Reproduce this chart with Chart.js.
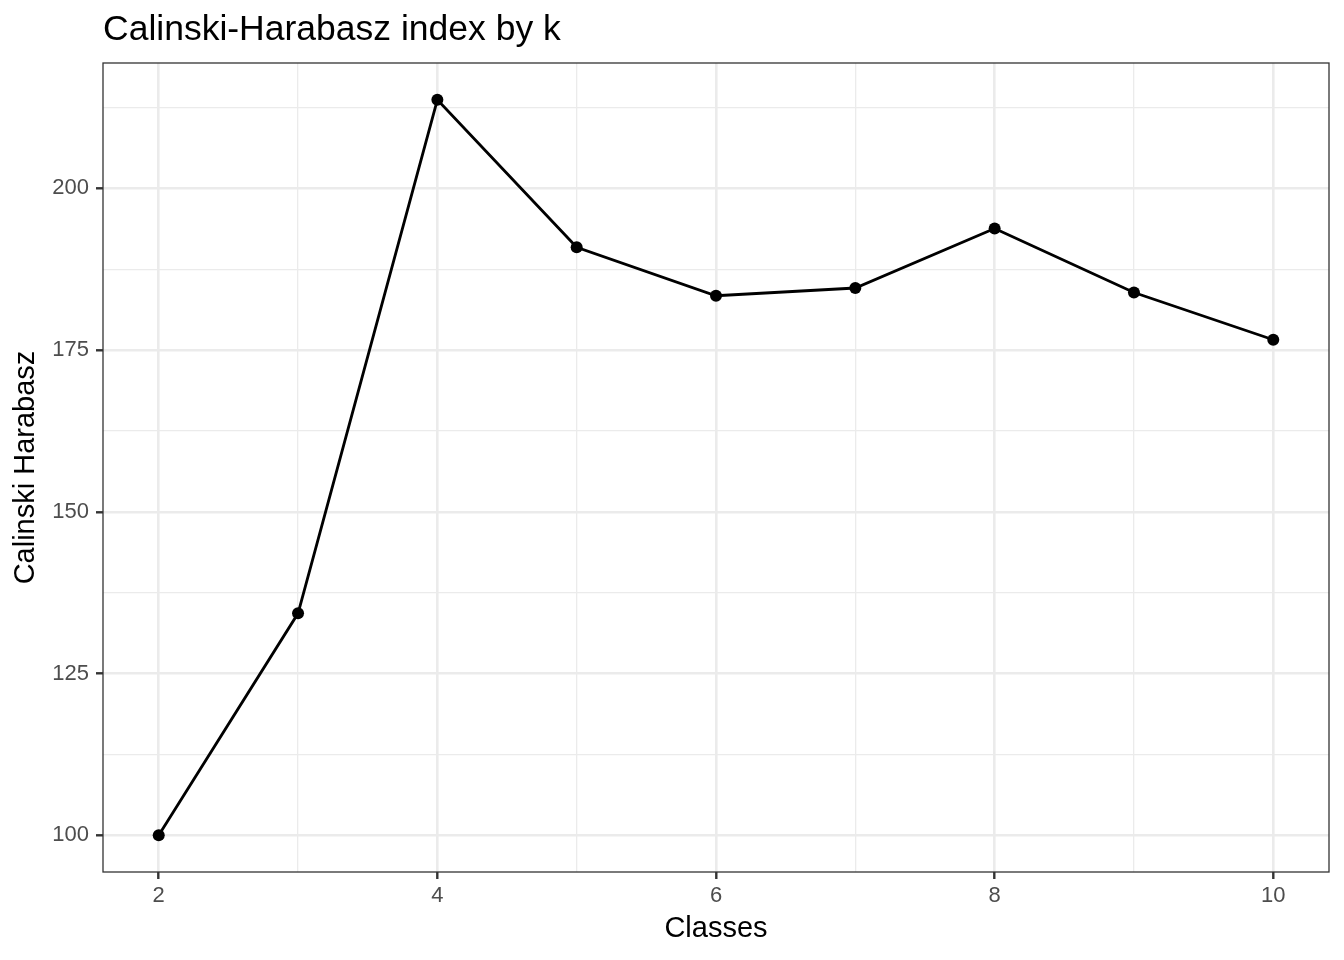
<!DOCTYPE html>
<html>
<head>
<meta charset="utf-8">
<script src="https://cdn.jsdelivr.net/npm/chart.js@4"></script>
<style>
  html, body { margin: 0; padding: 0; background: #ffffff; }
  #wrap { width: 1344px; height: 960px; }
</style>
</head>
<body>
<div id="wrap"><canvas id="c" width="1344" height="960"></canvas></div>
<script>
// ---- data ----
const classes = [2, 3, 4, 5, 6, 7, 8, 9, 10];
const chValues = [100.0, 134.3, 213.7, 190.9, 183.4, 184.6, 193.8, 183.9, 176.6];
const xTicks = [2, 3, 4, 5, 6, 7, 8, 9, 10];
const xMajor = [2, 4, 6, 8, 10];
const yTicks = [100, 112.5, 125, 137.5, 150, 162.5, 175, 187.5, 200, 212.5];
const yMajor = [100, 125, 150, 175, 200];
const titleText = 'Calinski-Harabasz index by k';
const xTitle = 'Classes';
const yTitle = 'Calinski Harabasz';

// ggplot-like 5% expansion
const xMinD = Math.min(...classes), xMaxD = Math.max(...classes);
const yMinD = Math.min(...chValues), yMaxD = Math.max(...chValues);
const xPad = (xMaxD - xMinD) * 0.05, yPad = (yMaxD - yMinD) * 0.05;

const FONT = '"Liberation Sans", Arial, Helvetica, sans-serif';
const GRID = '#EBEBEB';
const DARK = '#333333';

const isMajorX = v => xMajor.includes(v);
const isMajorY = v => yMajor.includes(v);

const panelBorder = {
  id: 'panelBorder',
  afterDraw(chart) {
    const {ctx, chartArea: a} = chart;
    ctx.save();
    ctx.strokeStyle = DARK;
    ctx.lineWidth = 1.3;
    ctx.strokeRect(a.left, a.top, a.right - a.left, a.bottom - a.top);
    ctx.restore();
  }
};

new Chart(document.getElementById('c'), {
  type: 'line',
  data: {
    datasets: [{
      data: classes.map((k, i) => ({x: k, y: chValues[i]})),
      borderColor: '#000000',
      backgroundColor: '#000000',
      borderWidth: 2.8,
      tension: 0,
      pointRadius: 6,
      pointBorderWidth: 0,
      pointBackgroundColor: '#000000',
      fill: false
    }]
  },
  options: {
    responsive: false,
    devicePixelRatio: 1,
    animation: false,
    layout: { padding: { left: 0, right: 15, top: 0, bottom: 0 } },
    plugins: {
      legend: { display: false },
      tooltip: { enabled: false },
      title: {
        display: true,
        text: titleText,
        align: 'start',
        fullSize: false,
        color: '#000000',
        font: { family: FONT, size: 35.5, weight: 'normal', lineHeight: 1.2 },
        padding: { top: 9, bottom: 11.4 }
      }
    },
    scales: {
      x: {
        type: 'linear',
        min: xMinD - xPad,
        max: xMaxD + xPad,
        afterBuildTicks: s => { s.ticks = xTicks.map(v => ({value: v})); },
        afterFit: s => { s.height = 88; },
        ticks: {
          autoSkip: false,
          maxRotation: 0,
          padding: 4,
          color: '#4D4D4D',
          font: { family: FONT, size: 22, lineHeight: 1.2 },
          callback: v => isMajorX(v) ? String(v) : ''
        },
        grid: {
          color: GRID,
          lineWidth: c => (c.tick && isMajorX(c.tick.value)) ? 2.6 : 1.3,
          drawTicks: true,
          tickLength: 7,
          tickWidth: 2.4,
          tickColor: c => (c.tick && isMajorX(c.tick.value)) ? DARK : 'rgba(0,0,0,0)'
        },
        border: { display: false },
        title: {
          display: true,
          text: xTitle,
          color: '#000000',
          font: { family: FONT, size: 29, lineHeight: 1.2 },
          padding: { top: 0, bottom: 14 }
        }
      },
      y: {
        type: 'linear',
        min: yMinD - yPad,
        max: yMaxD + yPad,
        afterBuildTicks: s => { s.ticks = yTicks.map(v => ({value: v})); },
        afterFit: s => { s.width = 103; },
        ticks: {
          autoSkip: false,
          padding: 7,
          color: '#4D4D4D',
          font: { family: FONT, size: 22, lineHeight: 1.2 },
          callback: v => isMajorY(v) ? String(v) : ''
        },
        grid: {
          color: GRID,
          lineWidth: c => (c.tick && isMajorY(c.tick.value)) ? 2.6 : 1.3,
          drawTicks: true,
          tickLength: 7,
          tickWidth: 2.4,
          tickColor: c => (c.tick && isMajorY(c.tick.value)) ? DARK : 'rgba(0,0,0,0)'
        },
        border: { display: false },
        title: {
          display: true,
          text: yTitle,
          color: '#000000',
          font: { family: FONT, size: 29, lineHeight: 1.2 },
          padding: { top: 9, bottom: 0 }
        }
      }
    }
  },
  plugins: [panelBorder]
});
</script>
</body>
</html>
